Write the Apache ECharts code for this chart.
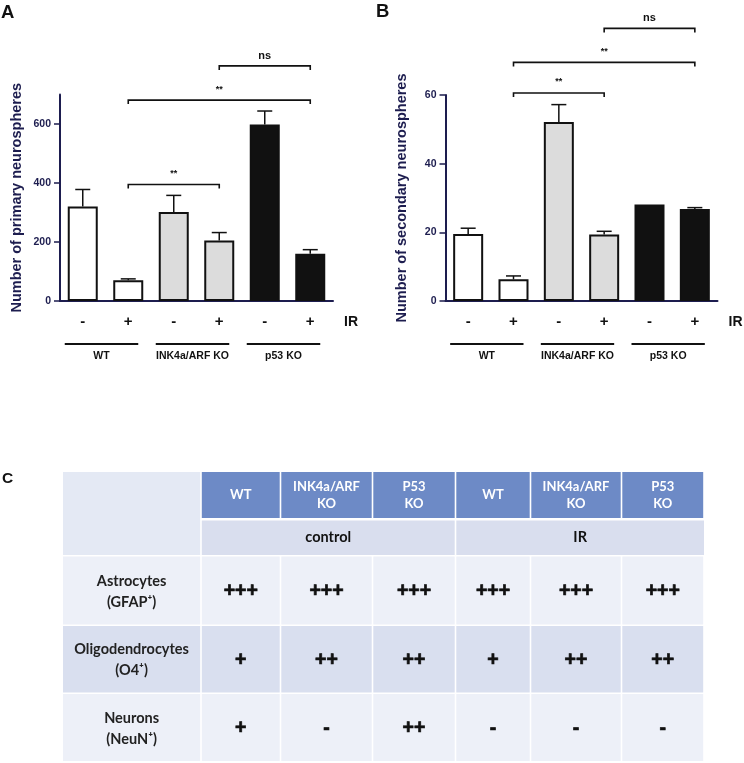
<!DOCTYPE html>
<html><head><meta charset="utf-8">
<script src="https://cdn.jsdelivr.net/npm/echarts@6/dist/echarts.min.js"></script>
<style>html,body{margin:0;padding:0;background:#fff}#c{width:744px;height:763px}</style>
</head><body><div id="c"></div>
<script>
// ---------- data ----------
const irLabels = ['-', '+', '-', '+', '-', '+'];
const groupNames = ['WT', 'INK4a/ARF KO', 'p53 KO'];
const primaryMean = [320, 70, 302, 205, 598, 160];
const primaryErr = [58, 5, 56, 27, 46, 14];
const secondaryMean = [19.5, 6.3, 52.1, 19.4, 28.1, 26.8];
const secondaryErr = [1.7, 1.0, 5.1, 0.9, 0, 0.4];
const primaryTicks = [0, 200, 400, 600];
const secondaryTicks = [0, 20, 40, 60];
const primaryBrackets = [[1, 3, 395, '**'], [1, 5, 681, '**'], [3, 5, 797, 'ns']];
const secondaryBrackets = [[1, 3, 60.6, '**'], [1, 5, 69.5, '**'], [3, 5, 79.4, 'ns']];
const tableCols = ['WT', 'INK4a/ARF\nKO', 'P53\nKO', 'WT', 'INK4a/ARF\nKO', 'P53\nKO'];
const tableGroups = ['control', 'IR'];
const tableRows = ['Astrocytes\n(GFAP\u207A)', 'Oligodendrocytes\n(O4\u207A)', 'Neurons\n(NeuN\u207A)'];
const astrocytes = ['+++', '+++', '+++', '+++', '+++', '+++'];
const oligodendrocytes = ['+', '++', '++', '+', '++', '++'];
const neurons = ['+', '-', '++', '-', '-', '-'];
const tableValues = [astrocytes, oligodendrocytes, neurons];

// ---------- style ----------
const NAVY = '#1d1d4f';
const barFill = ['#ffffff', '#dcdcdc', '#111111'];
const FONT = 'Liberation Sans, Arial, sans-serif';
const TFONT = 'Lato, "Open Sans", sans-serif';
const grids = [
  {left: 60, top: 94.5, width: 273, height: 206.5},
  {left: 445.5, top: 95, width: 272, height: 206}
];

const chart = echarts.init(document.getElementById('c'));

function yAxisCfg(gi, max, interval, ticks, name) {
  return {
    type: 'value', gridIndex: gi, min: 0, max: max, interval: interval,
    name: name, nameLocation: 'middle', nameGap: 36,
    nameTextStyle: {fontFamily: FONT, fontWeight: 'bold', fontSize: 14.5, color: NAVY},
    axisLine: {show: true, lineStyle: {color: NAVY, width: 2}},
    axisTick: {show: true, length: 6, lineStyle: {color: NAVY, width: 1.5}, customValues: ticks},
    axisLabel: {margin: 9, fontFamily: '"Liberation Sans Narrow", ' + FONT, fontWeight: 'bold', fontSize: 10.5, color: NAVY, customValues: ticks},
    splitLine: {show: false}
  };
}
function xAxisCfg(gi) {
  return {
    type: 'category', gridIndex: gi, data: irLabels,
    axisLine: {lineStyle: {color: NAVY, width: 2}},
    axisTick: {alignWithLabel: true, length: 4, lineStyle: {color: NAVY, width: 1.5}},
    axisLabel: {interval: 0, margin: 13, fontFamily: FONT, fontWeight: 'bold', fontSize: 15, color: '#111'}
  };
}
function barSeries(gi, values) {
  return {
    type: 'bar', xAxisIndex: gi, yAxisIndex: gi, barWidth: 30, z: 3,
    itemStyle: {borderColor: '#111', borderWidth: 2},
    data: values.map((v, i) => ({value: v, itemStyle: {color: barFill[Math.floor(i / 2)]}}))
  };
}
function errSeries(gi, means, errs) {
  return {
    type: 'custom', xAxisIndex: gi, yAxisIndex: gi, z: 2,
    data: means.map((m, i) => [i, m, errs[i]]),
    encode: {x: 0, y: 1},
    renderItem: function (params, api) {
      const x = api.value(0), m = api.value(1), e = api.value(2);
      if (!e) return null;
      const b = api.coord([x, m]), t = api.coord([x, m + e]);
      const hw = 7.5;
      return {type: 'group', children: [
        {type: 'line', shape: {x1: b[0], y1: b[1], x2: t[0], y2: t[1]}, style: {stroke: '#111', lineWidth: 1.5, fill: 'none'}},
        {type: 'line', shape: {x1: t[0] - hw, y1: t[1], x2: t[0] + hw, y2: t[1]}, style: {stroke: '#111', lineWidth: 1.5, fill: 'none'}}
      ]};
    }
  };
}
function bracketSeries(gi, brackets) {
  return {
    type: 'custom', xAxisIndex: gi, yAxisIndex: gi, z: 4, clip: false,
    data: brackets.map(b => [b[0], b[2]]),
    encode: {x: 0, y: 1},
    renderItem: function (params, api) {
      const b = brackets[params.dataIndex];
      const p1 = api.coord([b[0], b[2]]), p2 = api.coord([b[1], b[2]]);
      const isNs = b[3] === 'ns';
      return {type: 'group', children: [
        {type: 'polyline', shape: {points: [[p1[0], p1[1] + 4], [p1[0], p1[1]], [p2[0], p2[1]], [p2[0], p2[1] + 4]]},
          style: {stroke: '#111', lineWidth: 1.6, fill: 'none'}},
        {type: 'text', style: {text: b[3], x: (p1[0] + p2[0]) / 2, y: p1[1] - (isNs ? 10 : 11), align: 'center', verticalAlign: 'middle',
          fontFamily: FONT, fontWeight: 'bold', fontSize: isNs ? 11 : 9, fill: '#111'}}
      ]};
    }
  };
}

// ---------- graphic annotations ----------
const graphic = [];
function text(x, y, t, size, opts) {
  graphic.push(Object.assign({type: 'text', silent: true, style: Object.assign({
    text: t, x: x, y: y, align: 'center', verticalAlign: 'middle', fontFamily: FONT, fontWeight: 'bold', fontSize: size, fill: '#111'
  }, opts || {})}));
}
text(1, 3.5, 'A', 18.5, {align: 'left', verticalAlign: 'top'});
text(376, 2, 'B', 18.5, {align: 'left', verticalAlign: 'top'});
text(2, 470.5, 'C', 15.5, {align: 'left', verticalAlign: 'top'});

grids.forEach((g, gi) => {
  const cw = g.width / irLabels.length;
  const axisY = g.top + g.height;
  text(g.left + g.width + 11, axisY + 21, 'IR', 14, {align: 'left'});
  groupNames.forEach((name, k) => {
    const c0 = g.left + cw * (2 * k + 0.5), c1 = g.left + cw * (2 * k + 1.5);
    const x1 = c0 - 18, x2 = c1 + 10;
    graphic.push({type: 'line', silent: true, shape: {x1: x1, y1: axisY + 43, x2: x2, y2: axisY + 43}, style: {stroke: '#111', lineWidth: 1.8}});
    text((x1 + x2) / 2, axisY + 55, name, 10.5);
  });
});

// table
const B = [63, 201, 280.5, 372.5, 455.5, 530.5, 621.5, 704];
const GAP = 1.6;
function cellX(j) { return [B[j] + (j > 0 ? GAP / 2 : 0), B[j + 1] - (j < 7 ? GAP / 2 : 0)]; }
function rect(x1, y1, x2, y2, fill) {
  graphic.push({type: 'rect', silent: true, shape: {x: x1, y: y1, width: x2 - x1, height: y2 - y1}, style: {fill: fill}});
}
const headY = [472, 518], groupY = [520.5, 555];
const rowY = [[556.5, 624.5], [626, 692.5], [694, 761]];
const rowFill = ['#edf0f8', '#d9dfef', '#edf0f8'];
rect(63, 472, B[1] - GAP / 2, 555, '#e4e9f4');
tableCols.forEach((c, i) => {
  const [x1, x2] = cellX(i + 1);
  rect(x1, headY[0], x2, headY[1], '#6d8ac6');
  text((x1 + x2) / 2, (headY[0] + headY[1]) / 2, c, 13, {fontFamily: TFONT, fill: '#ffffff', lineHeight: 17});
});
tableGroups.forEach((gname, k) => {
  const x1 = B[1 + 3 * k] + GAP / 2, x2 = k === 1 ? B[7] : B[4] - GAP / 2;
  rect(x1, groupY[0], x2, groupY[1], '#d9deee');
  text((x1 + x2) / 2, (groupY[0] + groupY[1]) / 2, gname, 14.5, {fontFamily: TFONT, fill: '#111'});
});
tableRows.forEach((r, ri) => {
  const [y1, y2] = rowY[ri];
  for (let j = 0; j < 7; j++) {
    const [x1, x2] = cellX(j);
    rect(x1, y1, x2, y2, rowFill[ri]);
    if (j === 0) text((x1 + x2) / 2, (y1 + y2) / 2 + 1, r, 14.5, {fontFamily: TFONT, fill: '#222', lineHeight: 21});
    else text((x1 + x2) / 2, (y1 + y2) / 2 + 1, tableValues[ri][j - 1], 19.5, {fontFamily: FONT, fill: '#111', stroke: '#111', lineWidth: 0.7});
  }
});

chart.setOption({
  animation: false,
  backgroundColor: '#ffffff',
  grid: grids,
  xAxis: [xAxisCfg(0), xAxisCfg(1)],
  yAxis: [yAxisCfg(0, 700, 200, primaryTicks, 'Number of primary neurospheres'),
          yAxisCfg(1, 60, 20, secondaryTicks, 'Number of secondary neurospheres')],
  series: [
    errSeries(0, primaryMean, primaryErr), barSeries(0, primaryMean), bracketSeries(0, primaryBrackets),
    errSeries(1, secondaryMean, secondaryErr), barSeries(1, secondaryMean), bracketSeries(1, secondaryBrackets)
  ],
  graphic: graphic
});
</script></body></html>
